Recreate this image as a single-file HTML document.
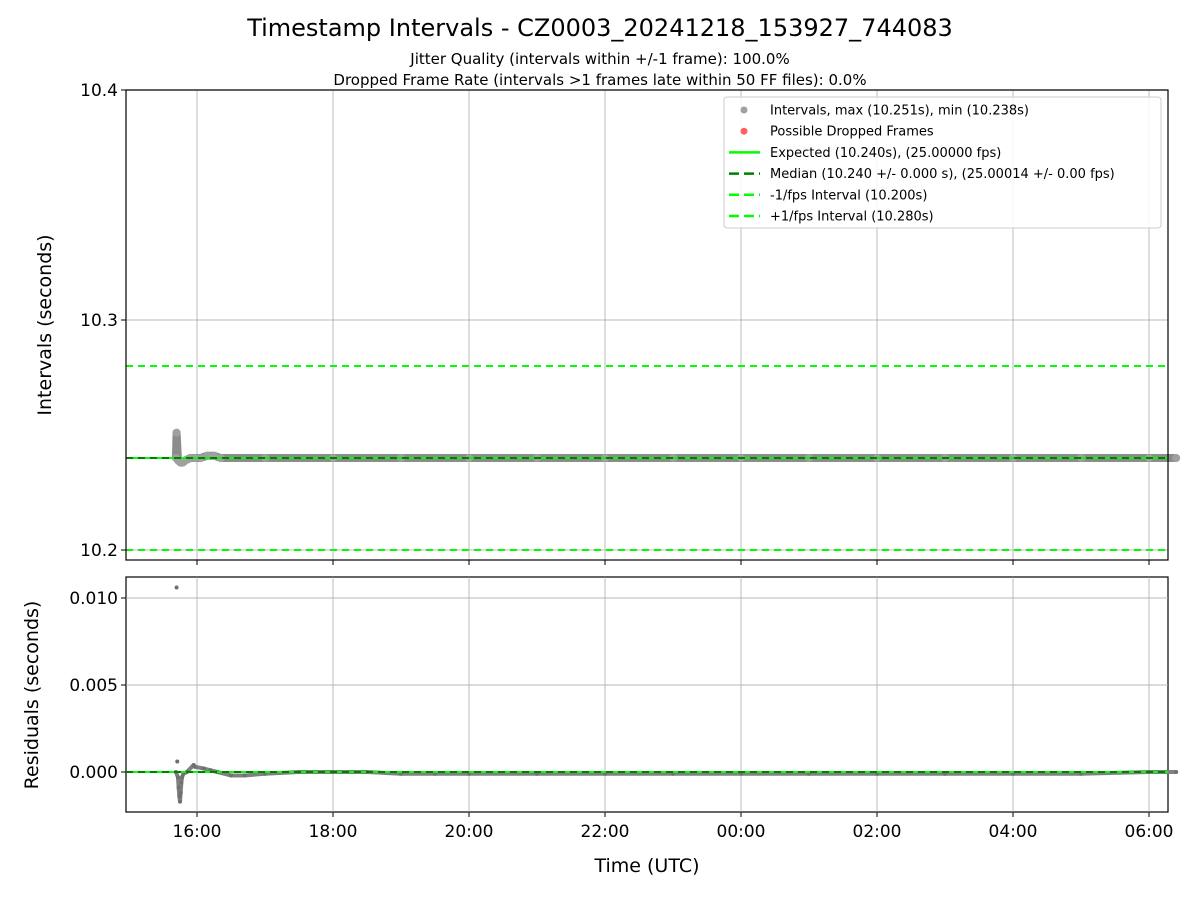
<!DOCTYPE html>
<html><head><meta charset="utf-8"><style>
body{margin:0;background:#fff}
svg text{font-family:"DejaVu Sans","Liberation Sans",sans-serif;fill:#000}
</style></head><body>
<svg id="chart" width="1200" height="900" xmlns="http://www.w3.org/2000/svg">
<text x="600" y="36" font-size="24" text-anchor="middle">Timestamp Intervals - CZ0003_20241218_153927_744083</text>
<text x="600" y="64" font-size="15" text-anchor="middle">Jitter Quality (intervals within +/-1 frame): 100.0%</text>
<text x="600" y="85" font-size="15" text-anchor="middle">Dropped Frame Rate (intervals &gt;1 frames late within 50 FF files): 0.0%</text>
<g id="topPanel"></g>
<g id="botPanel"></g>
<text transform="translate(51,325) rotate(-90)" font-size="19" text-anchor="middle">Intervals (seconds)</text>
<text transform="translate(38,695) rotate(-90)" font-size="19" text-anchor="middle">Residuals (seconds)</text>
<text x="647" y="872" font-size="19" text-anchor="middle">Time (UTC)</text>
<g id="legendG"></g>
</svg>
<script>
const xTickHours=[16,18,20,22,24,26,28,30];
const xTickLabels=["16:00","18:00","20:00","22:00","00:00","02:00","04:00","06:00"];
const topTicks=[10.2,10.3,10.4];
const topTickLabels=["10.2","10.3","10.4"];
const botTicks=[0,0.005,0.010];
const botTickLabels=["0.000","0.005","0.010"];
const intervalTimes=[15.69,15.70,15.72,15.76,15.79,15.83,15.9,15.97,16.05,16.15,16.25,16.35,17,18,19,20,21,22,23,24,25,26,27,28,29,30,30.4];
const intervalValues=[10.240,10.251,10.239,10.238,10.238,10.239,10.240,10.240,10.240,10.241,10.241,10.240,10.240,10.240,10.240,10.240,10.240,10.240,10.240,10.240,10.240,10.240,10.240,10.240,10.240,10.240,10.240];
const residTimes=[15.69,15.70,15.71,15.72,15.73,15.74,15.75,15.76,15.77,15.78,15.80,15.85,15.95,15.97,16.1,16.2,16.3,16.5,16.7,17,17.5,18,18.5,19,19.5,20,21,22,23,24,25,26,27,28,29,30,30.4];
const residValues=[0.0000,0.0106,0.0006,-0.0003,-0.0009,-0.0014,-0.0017,-0.0012,-0.0006,-0.0003,-0.0001,0.0000,0.0004,0.0003,0.0002,0.0001,0.0000,-0.0002,-0.0002,-0.0001,0.0000,0.0000,0.0000,-0.0001,-0.0001,-0.0001,-0.0001,-0.0001,-0.0001,-0.0001,-0.0001,-0.0001,-0.0001,-0.0001,-0.0001,0.0000,0.0000];
const expectedVal=10.240, medianVal=10.240, minusFps=10.200, plusFps=10.280;

const NS="http://www.w3.org/2000/svg";
const L=126,R=1168;
const xs=h=>197+(h-16)*68;
const yT=v=>550-(v-10.2)*2300;
const yB=v=>772-v/0.005*87;
function mk(tag,attrs,parent){const e=document.createElementNS(NS,tag);for(const k in attrs)e.setAttribute(k,attrs[k]);parent.appendChild(e);return e;}
const topG=document.getElementById('topPanel'),botG=document.getElementById('botPanel'),legG=document.getElementById('legendG');

function panel(g,y0,y1,ticks,labels,yf,showX){
  xTickHours.forEach((h,i)=>{
    const gl=mk('line',{x1:xs(h),x2:xs(h),y1:y0,y2:y1,stroke:'#b0b0b0','stroke-width':1.2,opacity:0.7},g);
    
    
    const t=mk('line',{x1:xs(h),x2:xs(h),y1:y1,y2:y1+5,stroke:'#000'},g);
    
    
    if(showX){const tx=mk('text',{x:xs(h),y:y1+25,'font-size':17,'text-anchor':'middle'},g);tx.textContent=xTickLabels[i];
      
      }
  });
  ticks.forEach((v,i)=>{
    const gl=mk('line',{x1:L,x2:R,y1:yf(v),y2:yf(v),stroke:'#b0b0b0','stroke-width':1.2,opacity:0.7},g);
    
    
    const t=mk('line',{x1:L-5,x2:L,y1:yf(v),y2:yf(v),stroke:'#000'},g);
    
    
    const tx=mk('text',{x:L-8,y:yf(v)+6,'font-size':17,'text-anchor':'end'},g);tx.textContent=labels[i];
    
    
  });
}
panel(topG,90,560,topTicks,topTickLabels,yT,false);
panel(botG,577,812,botTicks,botTickLabels,yB,true);

const tp=intervalTimes.map((t,i)=>xs(t)+','+yT(intervalValues[i])).join(' ');
const band=mk('polyline',{points:tp,fill:'none',stroke:'#808080','stroke-width':8,'stroke-linejoin':'round',opacity:0.9},topG);


intervalTimes.forEach((t,i)=>{const c=mk('circle',{cx:xs(t),cy:yT(intervalValues[i]),r:4,fill:'#a0a0a0'},topG);
  
  });
function hline(g,yv,color,dash,name){const l=mk('line',{x1:L,x2:R,y1:yv,y2:yv,stroke:color,'stroke-width':2,'stroke-dasharray':dash||'none'},g);
  
  }
hline(topG,yT(expectedVal),'#00ff00',null,'expected-line');
hline(topG,yT(medianVal),'#008000','7,5','median-line');
hline(topG,yT(minusFps),'#00ff00','7,5','minus-fps-line');
hline(topG,yT(plusFps),'#00ff00','7,5','plus-fps-line');

const bpts=residTimes.map((t,i)=>[xs(t),yB(residValues[i])]).filter((p,i)=>i!==1&&i!==2).map(p=>p.join(',')).join(' ');
const rb=mk('polyline',{points:bpts,fill:'none',stroke:'#808080','stroke-width':4,'stroke-linejoin':'round'},botG);


residTimes.forEach((t,i)=>{const c=mk('circle',{cx:xs(t),cy:yB(residValues[i]),r:2,fill:'#707070'},botG);
  
  });
hline(botG,yB(0),'#00ff00',null,'residual-zero-line');
hline(botG,yB(0),'#008000','7,5','residual-median-line');

[[90,560],[577,812]].forEach(([a,b])=>{const r=mk('rect',{x:L,y:a,width:R-L,height:b-a,fill:'none',stroke:'#000','stroke-width':1.2},topG);
  
  });

const lr=mk('rect',{x:724,y:97,width:437,height:131,rx:3,fill:'#fff','fill-opacity':0.85,stroke:'#ccc'},legG);


const items=[['dot','#a0a0a0','Intervals, max (10.251s), min (10.238s)'],['dot','#ff6060','Possible Dropped Frames'],
 ['line','#00ff00','Expected (10.240s), (25.00000 fps)'],['dash','#008000','Median (10.240 +/- 0.000 s), (25.00014 +/- 0.00 fps)'],
 ['dash','#00ff00','-1/fps Interval (10.200s)'],['dash','#00ff00','+1/fps Interval (10.280s)']];
items.forEach((it,i)=>{const y=110+i*21.2;
  const g=mk('g',{},legG);
  
  
  if(it[0]==='dot')mk('circle',{cx:744,cy:y,r:3.5,fill:it[1]},g);
  else mk('line',{x1:729,x2:760,y1:y,y2:y,stroke:it[1],'stroke-width':2.5,'stroke-dasharray':it[0]==='dash'?'10,5':'none'},g);
  const t=mk('text',{x:770,y:y+4.5,'font-size':13},g);t.textContent=it[2];});
</script>
</body></html>
